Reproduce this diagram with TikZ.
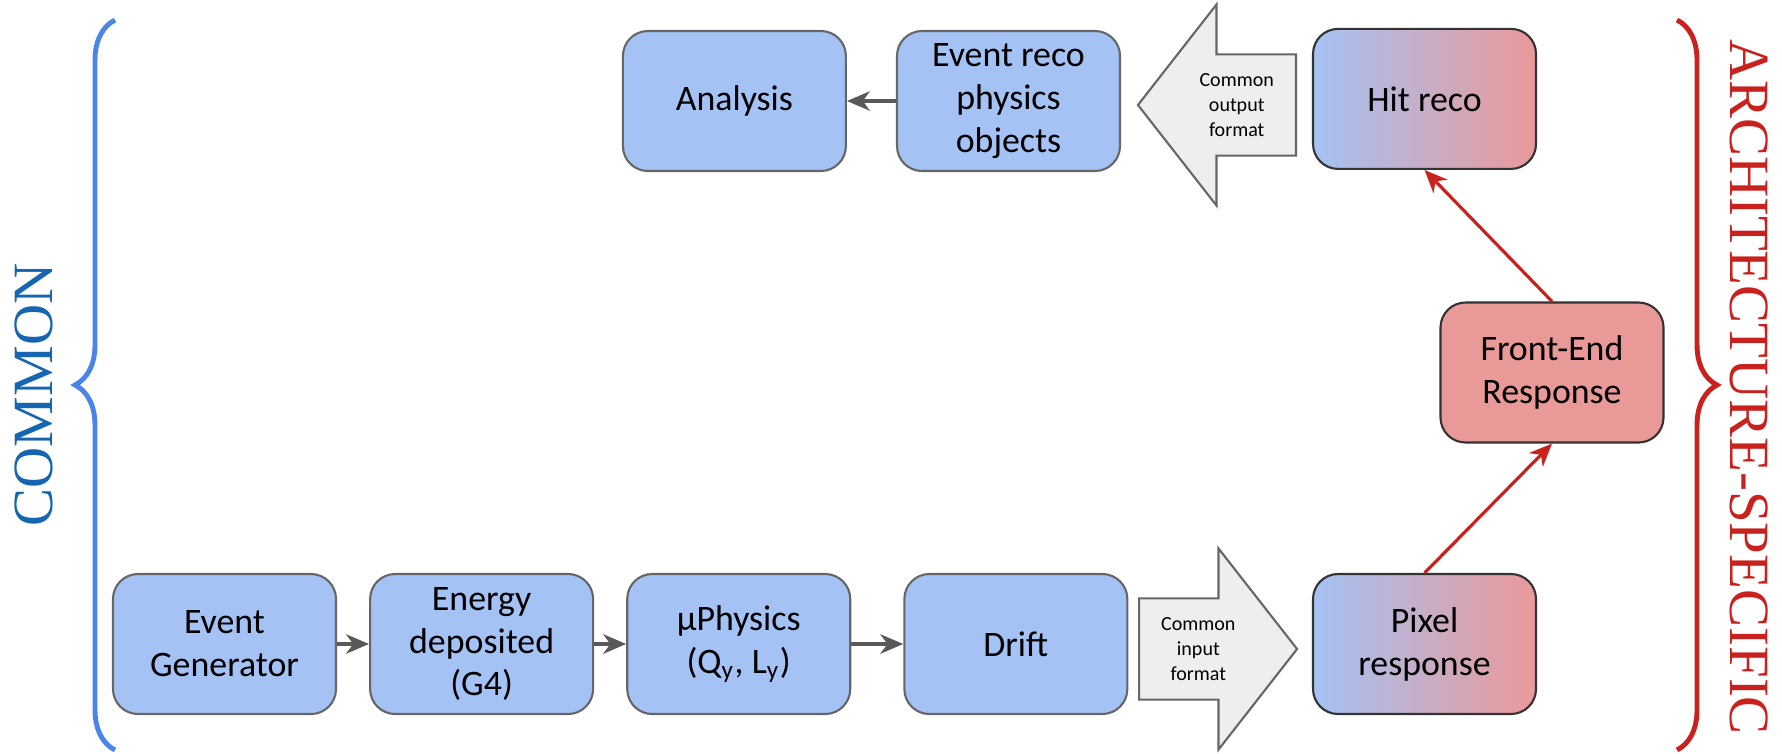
\documentclass[tikz,border=0pt]{standalone}
\usepackage{fontspec}
\setmainfont{Carlito}
\newfontfamily\sidefont{Liberation Serif}
\usepackage{xcolor}
\definecolor{boxBlue}{HTML}{A4C2F4}
\definecolor{boxRed}{HTML}{EA9999}
\definecolor{edgeGray}{HTML}{666666}
\definecolor{lineGray}{HTML}{595959}
\definecolor{archRed}{HTML}{C9211E}
\definecolor{braceBlue}{HTML}{4A86E8}
\definecolor{commonBlue}{HTML}{1565B0}
\definecolor{formatGray}{HTML}{EEEEEE}
\usetikzlibrary{shapes.arrows, arrows.meta, positioning, decorations.pathreplacing}

\begin{document}
\begin{tikzpicture}[
  node distance=0.32cm and 0.32cm,
  stage/.style={rectangle, rounded corners=0.25cm, draw=edgeGray, line width=0.6pt,
               fill=boxBlue, minimum width=2.23cm, minimum height=1.40cm,
               align=center, font=\fontsize{10.2}{12.2}\selectfont},
  mixed/.style={stage, draw=black!80, left color=boxBlue, right color=boxRed},
  fe/.style={stage, draw=black!80, fill=boxRed},
  bigarrow/.style={single arrow, draw=edgeGray, fill=formatGray, line width=0.6pt,
                   minimum height=1.58cm, single arrow head extend=0.5cm,
                   single arrow tip angle=104, inner xsep=0.05cm, inner ysep=0.18cm,
                   align=center, font=\fontsize{5.7}{7.1}\selectfont, anchor=tail},
  arrow/.style={-{Stealth[length=6.5pt, width=5.5pt, inset=2pt]}, line width=1.1pt, draw=lineGray},
  redarrow/.style={-{Stealth[length=6.5pt, width=5.5pt, inset=2pt]}, line width=0.9pt, draw=archRed},
  sidebrace/.style={decorate, decoration={brace, amplitude=0.4cm}, line width=1.4pt},
  side/.style={font=\sidefont\fontsize{16.2}{18}\selectfont},
]
  \useasboundingbox (0,0) rectangle (17.82,-7.53);

  \node[stage] (evgen) at (2.245,-6.44) {Event\\Generator};
  \node[stage, right=of evgen] (energy) {Energy\\deposited\\(G4)};
  \node[stage, right=of energy] (muphys) {µPhysics\\(Q\textsubscript{y}, L\textsubscript{y})};
  \node[stage, right=0.52cm of muphys] (drift) {Drift};
  \node[bigarrow] (inarrow) at (11.38,-6.49) {Common\\input\\format};
  \node[mixed] (pixel) at (14.245,-6.44) {Pixel\\response};

  \node[fe] (frontend) at (15.52,-3.725) {Front-End\\Response};
  \node[mixed, above=4.03cm of pixel] (hitreco) {Hit reco};
  \node[bigarrow, shape border rotate=180] (outarrow) at (12.97,-1.05) {Common\\output\\format};
  \node[stage] (evreco) at (10.085,-1.01) {Event reco\\physics\\objects};
  \node[stage, left=0.49cm of evreco] (analysis) {Analysis};

  \draw[arrow] (evgen) -- (energy);
  \draw[arrow] (energy) -- (muphys);
  \draw[arrow] (muphys) -- (drift);
  \draw[arrow] (evreco) -- (analysis);
  \draw[redarrow] (pixel.north) -- (frontend.south);
  \draw[redarrow] (frontend.north) -- (hitreco.south);

  \draw[sidebrace, braceBlue] (1.15,-7.50) -- (1.15,-0.20);
  \draw[sidebrace, archRed] (16.77,-0.20) -- (16.77,-7.50);
  \node[side, rotate=90, text=commonBlue] (common) at (0.34,-3.95) {COMMON};
  \node[side, rotate=-90, text=archRed] (arch) at (17.49,-3.87) {ARCHITECTURE-SPECIFIC};
\end{tikzpicture}
\end{document}
